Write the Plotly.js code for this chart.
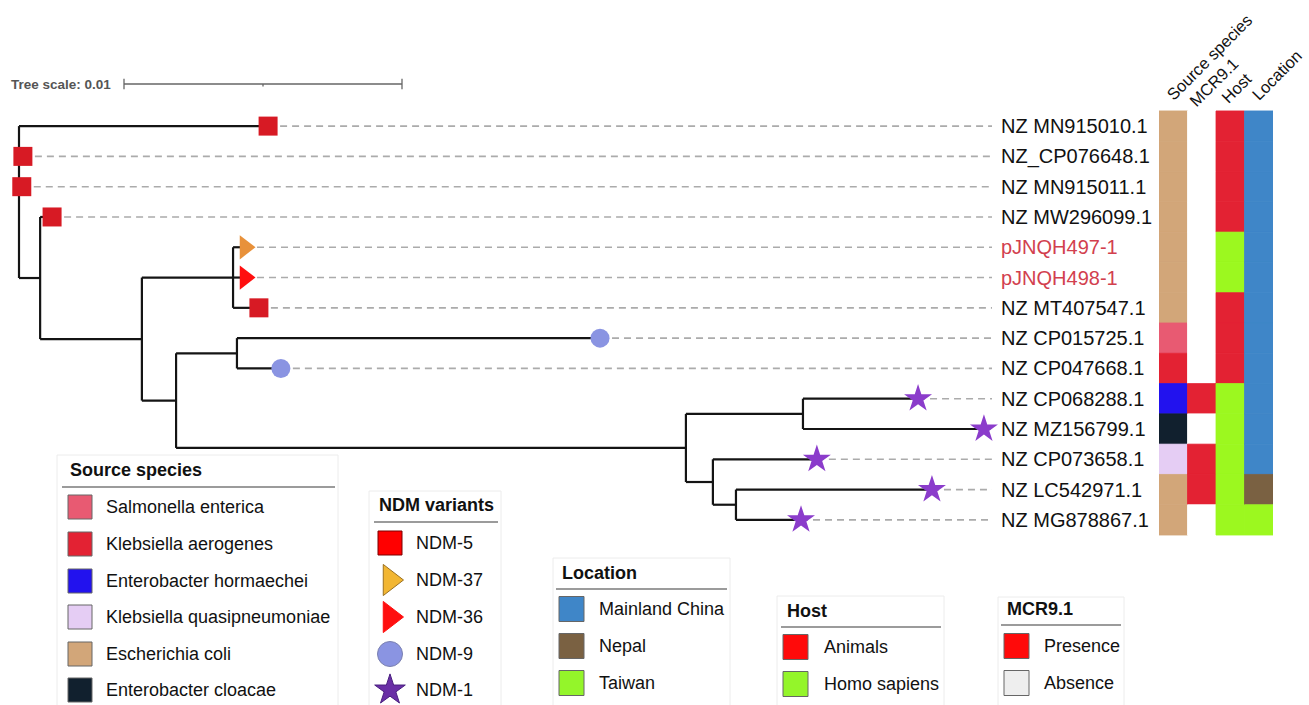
<!DOCTYPE html>
<html><head><meta charset="utf-8">
<script src="https://cdn.plot.ly/plotly-3.0.1.min.js"></script>
<style>html,body{margin:0;padding:0;background:#fff}#chart{width:1309px;height:705px}</style>
</head><body><div id="chart"></div>
<script>
// ---------- DATA ----------
const leafLabels = ['NZ MN915010.1','NZ_CP076648.1','NZ MN915011.1','NZ MW296099.1','pJNQH497-1','pJNQH498-1','NZ MT407547.1','NZ CP015725.1','NZ CP047668.1','NZ CP068288.1','NZ MZ156799.1','NZ CP073658.1','NZ LC542971.1','NZ MG878867.1'];
const leafParent = ['root','root','root','A','C','C','C','E','E','G','G','H','I','I'];
const leafDepth  = [0.00896,0.00014,0.0001,0.00119,0.00813,0.00813,0.00863,0.0209,0.00942,0.03234,0.03471,0.0287,0.03284,0.02813];
const leafNDM    = ['NDM-5','NDM-5','NDM-5','NDM-5','NDM-37','NDM-36','NDM-5','NDM-9','NDM-9','NDM-1','NDM-1','NDM-1','NDM-1','NDM-1'];
const highlighted = ['pJNQH497-1','pJNQH498-1'];
const nodeNames   = ['root','A','B','C','D','E','F','G','H','I'];
const nodeParents = [null,'root','A','B','B','D','D','F','F','H'];
const nodeDepth   = [0,0.00076,0.00442,0.0077,0.00565,0.00784,0.02399,0.0282,0.02496,0.02579];
const treeScale = 0.01;

const heatColumns = ['Source species','MCR9.1','Host','Location'];
const sourceSpecies = ['Escherichia coli','Escherichia coli','Escherichia coli','Escherichia coli','Escherichia coli','Escherichia coli','Escherichia coli','Salmonella enterica','Klebsiella aerogenes','Enterobacter hormaechei','Enterobacter cloacae','Klebsiella quasipneumoniae','Escherichia coli','Escherichia coli'];
const mcrValues = ['Absence','Absence','Absence','Absence','Absence','Absence','Absence','Absence','Absence','Presence','Absence','Presence','Presence','Absence'];
const hostValues = ['Animals','Animals','Animals','Animals','Homo sapiens','Homo sapiens','Animals','Animals','Animals','Homo sapiens','Homo sapiens','Homo sapiens','Homo sapiens','Homo sapiens'];
const locationValues = ['Mainland China','Mainland China','Mainland China','Mainland China','Mainland China','Mainland China','Mainland China','Mainland China','Mainland China','Mainland China','Mainland China','Mainland China','Nepal','Taiwan'];

const speciesCats = ['Salmonella enterica','Klebsiella aerogenes','Enterobacter hormaechei','Klebsiella quasipneumoniae','Escherichia coli','Enterobacter cloacae'];
const ndmCats = ['NDM-5','NDM-37','NDM-36','NDM-9','NDM-1'];
const locationCats = ['Mainland China','Nepal','Taiwan'];
const hostCats = ['Animals','Homo sapiens'];
const mcrCats = ['Presence','Absence'];

// ---------- STYLES ----------
const heatColor = {
  'Salmonella enterica':'#e85a72','Klebsiella aerogenes':'#e32233','Enterobacter hormaechei':'#2212ee',
  'Klebsiella quasipneumoniae':'#e5cdf4','Escherichia coli':'#d2a679','Enterobacter cloacae':'#11202e',
  'Presence':'#e32233','Absence':'#ffffff','Animals':'#e32233','Homo sapiens':'#9cf81f',
  'Mainland China':'#3f86c8','Nepal':'#7a6142','Taiwan':'#9cf81f'};
const legendColor = Object.assign({}, heatColor, {'Animals':'#ff0a0a','Presence':'#ff0a0a','Absence':'#eeeeee','Homo sapiens':'#94f52a','Taiwan':'#94f52a'});
const ndmStyle = {
  'NDM-5':{symbol:'square',color:'#d71a24',size:19, lcolor:'#ff0000', lsize:24, lborder:'#7a0000'},
  'NDM-37':{symbol:'triangle-right',color:'#e8913a',size:21, lcolor:'#f2b632', lsize:27, lborder:'#9a7020'},
  'NDM-36':{symbol:'triangle-right',color:'#ff0f0f',size:21, lcolor:'#ff0f0f', lsize:27, lborder:'#ff0f0f'},
  'NDM-9':{symbol:'circle',color:'#8a94e2',size:19, lcolor:'#8a94e2', lsize:25, lborder:'#7a80b0'},
  'NDM-1':{symbol:'star',color:'#8b3ccb',size:21, lcolor:'#6a2fa6', lsize:23, lborder:'#4a2080'}};
const FONT = 'Liberation Sans, Arial, sans-serif';

// ---------- GEOMETRY (axes) ----------
const W=1309, H=705;
const rootPx=19, pxPerUnit=27800;
const row0Px=126.1, rowPx=30.29;
const xRange=[(0-rootPx)/pxPerUnit,(W-rootPx)/pxPerUnit];
const yRange=[(H-row0Px)/rowPx,(0-row0Px)/rowPx];
const xOfPx = p => (p-rootPx)/pxPerUnit;
const yOfPx = p => (p-row0Px)/rowPx;

// ---------- TREE LAYOUT ----------
const nodes = {};
nodeNames.forEach((n,i)=>{nodes[n]={name:n,parent:nodeParents[i],depth:nodeDepth[i],children:[]};});
leafLabels.forEach((n,i)=>{nodes[n]={name:n,parent:leafParent[i],depth:leafDepth[i],children:[],y:i,leaf:true};});
Object.values(nodes).forEach(nd=>{ if(nd.parent) nodes[nd.parent].children.push(nd); });
function layY(nd){ if(nd.leaf) return nd.y; const ys=nd.children.map(layY); nd.minY=Math.min(...ys); nd.maxY=Math.max(...ys); nd.y=(nd.minY+nd.maxY)/2; return nd.y; }
layY(nodes['root']);
const tx=[],ty=[];
Object.values(nodes).forEach(nd=>{
  if(nd.parent){ const p=nodes[nd.parent]; tx.push(p.depth,nd.depth,null); ty.push(nd.y,nd.y,null); }
  if(!nd.leaf){ tx.push(nd.depth,nd.depth,null); ty.push(nd.minY,nd.maxY,null); }
});

const traces=[];
const labelX = xOfPx(999), guideEnd = xOfPx(992);
const gx=[],gy=[];
leafLabels.forEach((n,i)=>{ gx.push(leafDepth[i],guideEnd,null); gy.push(i,i,null); });
traces.push({x:gx,y:gy,mode:'lines',line:{color:'#ababab',width:1.6,dash:'7px,5px'},hoverinfo:'skip',xaxis:'x',yaxis:'y'});
traces.push({x:tx,y:ty,mode:'lines',line:{color:'#141414',width:2.2},hoverinfo:'skip',xaxis:'x',yaxis:'y'});
const sb0 = xOfPx(124), sbY = yOfPx(84), tk=0.17;
traces.push({x:[sb0,sb0+treeScale,null,sb0,sb0,null,sb0+treeScale,sb0+treeScale,null,sb0+treeScale/2,sb0+treeScale/2],
  y:[sbY,sbY,null,sbY-tk,sbY+tk,null,sbY-tk,sbY+tk,null,sbY,sbY+0.08],mode:'lines',line:{color:'#666',width:1.3},hoverinfo:'skip',xaxis:'x',yaxis:'y'});
ndmCats.forEach(c=>{
  const idx=leafNDM.map((v,i)=>v===c?i:-1).filter(i=>i>=0);
  const s=ndmStyle[c];
  traces.push({x:idx.map(i=>leafDepth[i]),y:idx,mode:'markers',marker:{symbol:s.symbol,size:s.size,color:s.color,line:{width:0}},hoverinfo:'skip',xaxis:'x',yaxis:'y'});
});

// ---------- SHAPES & ANNOTATIONS ----------
const shapes=[], annotations=[];
const heatData=[sourceSpecies,mcrValues,hostValues,locationValues];
heatData.forEach((col,j)=>col.forEach((v,i)=>{
  shapes.push({type:'rect',xref:'x2',yref:'y',x0:j-0.5,x1:j+0.5,y0:i-0.5,y1:i+0.5,fillcolor:heatColor[v],line:{color:heatColor[v],width:0.8},layer:'below'});
}));
heatColumns.forEach((t,j)=>{
  const colCenter = 1159 + (j+0.5)*28.5;
  const L = t.length*8.6;
  const sx = colCenter-2, sy=104;
  const cx = sx + L/2*0.7071 - 6*0.7071, cy = sy - L/2*0.7071 - 6*0.7071;
  annotations.push({xref:'x3',yref:'y3',x:cx,y:cy,text:t,showarrow:false,textangle:-45,xanchor:'center',yanchor:'middle',font:{family:FONT,size:16.5,color:'#111'}});
});
leafLabels.forEach((n,i)=>{
  annotations.push({xref:'x',yref:'y',x:labelX,y:i,text:n,showarrow:false,xanchor:'left',yanchor:'middle',
    font:{family:FONT,size:20,color:highlighted.includes(n)?'#d2404e':'#111'}});
});
annotations.push({xref:'x3',yref:'y3',x:9,y:84,text:'<b>Tree scale: 0.01</b>',showarrow:false,xanchor:'left',yanchor:'middle',font:{family:FONT,size:13.5,color:'#555'}});

function box(x0,y0,x1,y1){ shapes.push({type:'rect',xref:'x3',yref:'y3',x0,y0,x1,y1,line:{color:'#ececec',width:1},fillcolor:'rgba(0,0,0,0)'}); }
function title(x,y,t,l0,l1,ly){
  annotations.push({xref:'x3',yref:'y3',x,y,text:'<b>'+t+'</b>',showarrow:false,xanchor:'left',yanchor:'middle',font:{family:FONT,size:18,color:'#111'}});
  shapes.push({type:'line',xref:'x3',yref:'y3',x0:l0,x1:l1,y0:ly,y1:ly,line:{color:'#7a7a7a',width:1.5}});
}
function itemText(x,y,t){ annotations.push({xref:'x3',yref:'y3',x,y,text:t,showarrow:false,xanchor:'left',yanchor:'middle',font:{family:FONT,size:18,color:'#111'}}); }
function swatchLegend(cats,sx,sw,ys,txtX){
  cats.forEach((c,k)=>{
    shapes.push({type:'rect',xref:'x3',yref:'y3',x0:sx,x1:sx+sw,y0:ys[k]-sw/2,y1:ys[k]+sw/2,fillcolor:legendColor[c],line:{color:'#666',width:1}});
    itemText(txtX,ys[k],c);
  });
}
box(57,455,338,712);
title(68,470,'Source species',62,335,487);
swatchLegend(speciesCats,68,24,[507,544,581,617,654,690],104);
box(369,491,501,712);
title(377,505,'NDM variants',374,498,522);
const ndmYs=[543,580,617,654,690];
ndmCats.forEach((c,k)=>{
  const s=ndmStyle[c];
  traces.push({x:[390],y:[ndmYs[k]],mode:'markers',marker:{symbol:s.symbol,size:s.lsize,color:s.lcolor,line:{color:s.lborder,width:1}},hoverinfo:'skip',xaxis:'x3',yaxis:'y3'});
  itemText(414,ndmYs[k],c);
});
box(553,558,730,712);
title(560,573,'Location',556,727,589);
swatchLegend(locationCats,559,25,[609,646,683],597);
box(777,596,944,712);
title(785,611,'Host',781,941,627);
swatchLegend(hostCats,783,25,[647,684],822);
box(998,597,1124,712);
title(1005,609,'MCR9.1',1001,1121,625);
swatchLegend(mcrCats,1004,25,[646,683],1042);

const ax = {visible:false,fixedrange:true};
const layout = {
  width:W,height:H,margin:{l:0,r:0,t:0,b:0},paper_bgcolor:'#fff',plot_bgcolor:'rgba(0,0,0,0)',showlegend:false,
  xaxis:Object.assign({},ax,{domain:[0,1],range:xRange,anchor:'y'}),
  yaxis:Object.assign({},ax,{domain:[0,1],range:yRange,anchor:'x'}),
  xaxis2:Object.assign({},ax,{domain:[1159/W,1273/W],range:[-0.5,3.5],anchor:'y'}),
  xaxis3:Object.assign({},ax,{domain:[0,1],range:[0,W],anchor:'y3'}),
  yaxis3:Object.assign({},ax,{domain:[0,1],range:[H,0],anchor:'x3'}),
  shapes,annotations
};
Plotly.newPlot('chart',traces,layout,{staticPlot:true,displayModeBar:false});
</script></body></html>
